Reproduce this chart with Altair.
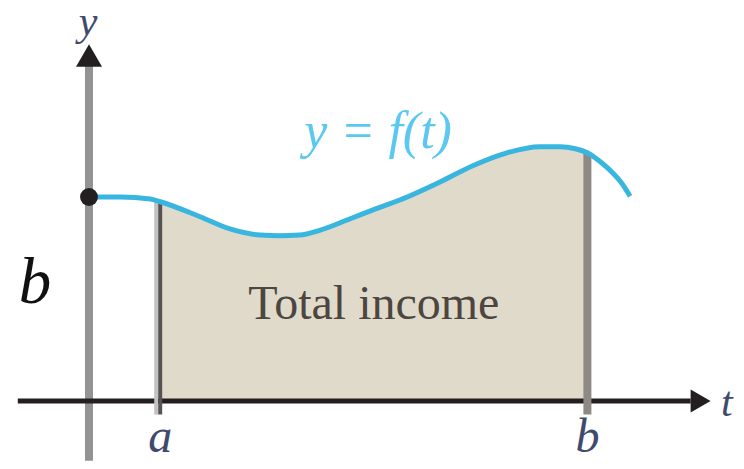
import altair as alt
import pandas as pd

# ---- data (t in units where a = 1, b = 7) ----
t_vals = [0.0, 0.44, 0.86, 1.0, 1.56, 1.98, 2.40, 2.68, 2.96, 3.24, 3.67, 3.99,
          4.47, 4.93, 5.39, 5.87, 6.33, 6.62, 6.83, 7.0, 7.19, 7.36, 7.47, 7.60]
f_vals = [3.0, 3.0, 2.97, 2.93, 2.71, 2.53, 2.44, 2.43, 2.44, 2.51, 2.68, 2.81,
          3.0, 3.22, 3.46, 3.65, 3.74, 3.74, 3.71, 3.65, 3.51, 3.35, 3.22, 3.01]
a_val = 1.0
b_val = 7.0
f0_val = 3.0

x_axis_span = [-1.0, 8.45]
y_axis_span = [-0.88, 4.93]
x_arrow_at = 8.59
y_arrow_at = 5.08

tick_labels = ["a", "b"]
tick_label_y = -0.75
axis_names = ["t", "y"]
curve_label = "y = f(t)"
area_label = "Total income"

# ---- scales: page pixels map 1:1 (8px page margin) ----
W, H = 728, 453
XMIN, XMAX = -1.1376, 9.0871
YMIN, YMAX = -0.8824, 5.7794
xs = alt.Scale(domain=[XMIN, XMAX], nice=False, zero=False)
ys = alt.Scale(domain=[YMIN, YMAX], nice=False, zero=False)

def X(f="x"):
    return alt.X(f"{f}:Q", scale=xs, axis=None)

def Y(f="y"):
    return alt.Y(f"{f}:Q", scale=ys, axis=None)

curve = pd.DataFrame({"x": t_vals, "y": f_vals, "i": range(len(t_vals))})
area_df = curve[(curve.x >= a_val) & (curve.x <= b_val)].reset_index(drop=True)

area = alt.Chart(area_df).mark_area(color="#e0dacb", interpolate="monotone", opacity=1).encode(
    x=X(), y=Y(), y2=alt.datum(0))

yaxis = alt.Chart(pd.DataFrame({"x": [0.0], "y": [y_axis_span[0]], "y2": [y_axis_span[1]]})).mark_rule(
    color="#939393", strokeWidth=8).encode(x=X(), y=Y(), y2="y2:Q")

xaxis = alt.Chart(pd.DataFrame({"x": [x_axis_span[0]], "x2": [x_axis_span[1]], "y": [0.0]})).mark_rule(
    color="#231f20", strokeWidth=5).encode(x=X(), x2="x2:Q", y=Y())

xarrow = alt.Chart(pd.DataFrame({"x": [x_arrow_at], "y": [0.0]})).mark_point(
    shape="triangle-right", size=529, filled=True, color="#231f20", opacity=1).encode(x=X(), y=Y())
yarrow = alt.Chart(pd.DataFrame({"x": [0.0], "y": [y_arrow_at]})).mark_point(
    shape="triangle-up", size=676, filled=True, color="#231f20", opacity=1).encode(x=X(), y=Y())

a_line_light = alt.Chart(pd.DataFrame({"x": [a_val - 0.056], "y": [-0.2], "y2": [f_vals[3]]})).mark_rule(
    color="#c2c2c2", strokeWidth=4).encode(x=X(), y=Y(), y2="y2:Q")
a_line = alt.Chart(pd.DataFrame({"x": [a_val], "y": [-0.2], "y2": [f_vals[3]]})).mark_rule(
    color="#585454", strokeWidth=4).encode(x=X(), y=Y(), y2="y2:Q")
b_line = alt.Chart(pd.DataFrame({"x": [b_val], "y": [-0.2], "y2": [f_vals[19]]})).mark_rule(
    color="#8e8984", strokeWidth=8).encode(x=X(), y=Y(), y2="y2:Q")

line = alt.Chart(curve).mark_line(color="#38b6e0", strokeWidth=5, interpolate="monotone").encode(
    x=X(), y=Y(), order="i:Q")

dot = alt.Chart(pd.DataFrame({"x": [0.0], "y": [f0_val]})).mark_point(
    shape="circle", size=320, filled=True, color="#231f20", opacity=1).encode(x=X(), y=Y())

serif = "Liberation Serif"

ticks = alt.Chart(pd.DataFrame({"x": [a_val, b_val], "y": [tick_label_y] * 2, "text": tick_labels})).mark_text(
    font=serif, fontSize=48, fontStyle="italic", color="#404a6e", align="center", baseline="alphabetic").encode(
    x=X(), y=Y(), text="text:N")

names = alt.Chart(pd.DataFrame({"x": [8.96, -0.014], "y": [-0.22, 5.38], "text": axis_names})).mark_text(
    font=serif, fontSize=42, fontStyle="italic", color="#404a6e", align="center", baseline="alphabetic").encode(
    x=X(), y=Y(), text="text:N")

curve_text = alt.Chart(pd.DataFrame({"x": [4.06], "y": [3.72], "text": [curve_label]})).mark_text(
    font=serif, fontSize=52, fontStyle="italic", color="#5ac8f2", align="center", baseline="alphabetic").encode(
    x=X(), y=Y(), text="text:N")

area_text = alt.Chart(pd.DataFrame({"x": [4.0], "y": [1.20], "text": [area_label]})).mark_text(
    font=serif, fontSize=48, color="#4d4540", align="center", baseline="alphabetic").encode(
    x=X(), y=Y(), text="text:N")

left_b = alt.Chart(pd.DataFrame({"x": [-0.758], "y": [1.441], "text": ["b"]})).mark_text(
    font=serif, fontSize=65, fontStyle="italic", color="#111111", align="center", baseline="alphabetic").encode(
    x=X(), y=Y(), text="text:N")

chart = alt.layer(
    area, yaxis, xaxis, xarrow, yarrow, a_line_light, a_line, b_line, line, dot,
    ticks, names, curve_text, area_text, left_b
).properties(
    width=W, height=H, padding=0, autosize=alt.AutoSizeParams(type="none"),
    background="white"
).configure_view(stroke=None)

chart.save("out.html", embed_options={"renderer": "svg", "actions": False})
